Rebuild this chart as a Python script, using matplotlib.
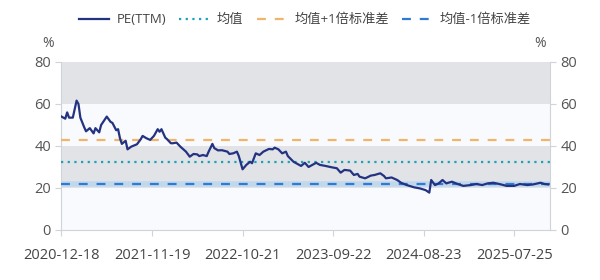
import matplotlib
matplotlib.use("Agg")
import matplotlib.pyplot as plt

plt.rcParams['font.family'] = ['Open Sans', 'Noto Sans CJK SC', 'DejaVu Sans']

# weeks since 2020-12-18 and PE(TTM) values
weeks = [0, 2, 3, 4, 6, 8, 9, 10, 12, 13, 15, 17, 18, 20, 21, 24, 26, 27, 29, 30,
         31, 32, 34, 35, 37, 40, 42, 43, 45, 47, 49, 51, 52, 53, 55, 56, 58, 59, 61, 63,
         66, 68, 70, 72, 73, 75, 77, 78, 80, 81, 83, 85, 88, 89, 91, 93, 94, 96, 98, 100,
         101, 103, 105, 107, 110, 112, 113, 115, 117, 119, 120, 123, 126, 127, 129, 131, 133, 135, 137, 140,
         143, 146, 148, 150, 153, 155, 157, 158, 161, 164, 166, 169, 171, 172, 175, 178, 180, 183, 187, 190,
         193, 195, 196, 198, 200, 202, 204, 207, 210, 213, 217, 220, 223, 226, 229, 233, 236, 240, 243, 247,
         250, 254, 256, 258]
pe = [54.0, 53.0, 56.0, 53.5, 53.5, 61.6, 60.0, 53.5, 49.0, 47.0, 48.5, 46.0, 48.5, 46.5, 50.0, 54.0, 51.5, 51.0, 47.5, 48.0,
      43.7, 41.0, 42.5, 38.4, 39.7, 40.8, 43.2, 44.8, 43.7, 42.9, 44.8, 48.0, 46.8, 48.0, 44.0, 43.2, 41.3, 41.3, 41.6, 39.7,
      37.3, 34.9, 36.2, 36.0, 35.2, 35.7, 35.2, 37.3, 41.0, 39.0, 37.9, 38.0, 37.3, 36.2, 36.5, 37.3, 35.2, 28.9, 31.0, 32.5,
      31.8, 36.5, 35.7, 37.3, 38.6, 38.4, 39.2, 38.4, 36.5, 37.3, 35.2, 32.5, 31.0, 30.5, 32.0, 30.0, 31.0, 32.0, 31.0, 30.5,
      29.9, 29.4, 27.3, 28.6, 28.3, 26.2, 26.7, 25.4, 24.6, 25.9, 26.2, 27.0, 25.7, 24.6, 25.0, 23.8, 22.5, 21.4, 20.3, 19.8,
      19.0, 17.8, 23.8, 21.4, 22.2, 23.8, 22.2, 23.0, 21.9, 21.0, 21.4, 21.9, 21.4, 22.2, 22.5, 21.7, 21.0, 21.0, 21.9, 21.4,
      21.7, 22.5, 21.9, 21.7]

mean_val = 32.5
upper_val = 42.9
lower_val = 22.0

tick_weeks = [0, 48, 96, 144, 192, 240]
tick_labels = ["2020-12-18", "2021-11-19", "2022-10-21", "2023-09-22", "2024-08-23", "2025-07-25"]
yticks = [0, 20, 40, 60, 80]

fig = plt.figure(figsize=(6, 2.8), dpi=100)
ax = fig.add_axes([0.1025, 0.1786, 0.8142, 0.6])
ax.set_facecolor('#f9fafd')

# grey bands
for lo, hi in [(60, 80), (20, 40)]:
    ax.axhspan(lo, hi, color='#e2e3e7', lw=0, zorder=0)

ax.plot(weeks, pe, color='#233382', lw=1.6, label='PE(TTM)', zorder=4)
ax.axhline(mean_val, color='#1ba2b5', lw=1.6, ls=(0, (1, 2)), label='均值', zorder=3)
ax.axhline(upper_val, color='#f0b56a', lw=1.6, ls=(0, (4, 4)), label='均值+1倍标准差', zorder=3)
ax.axhline(lower_val, color='#a9d2f4', lw=4, alpha=0.6, zorder=2)
ax.axhline(lower_val, color='#2f7ad3', lw=1.6, ls=(0, (4, 4)), label='均值-1倍标准差', zorder=3)

ax.set_xlim(0, 259)
ax.set_ylim(0, 80)
ax.set_xticks(tick_weeks)
ax.set_xticklabels(tick_labels)
ax.set_yticks(yticks)

ax.spines['top'].set_visible(False)
for s in ['left', 'right', 'bottom']:
    ax.spines[s].set_color('#cfd3da')
    ax.spines[s].set_linewidth(0.8)

ax.tick_params(axis='x', colors='#cfd3da', labelcolor='#444444', labelsize=10.5, length=4, pad=9)
ax.tick_params(axis='y', colors='#cfd3da', labelcolor='#555555', labelsize=10.5, length=4,
               left=True, right=True, labelleft=True, labelright=True)

fig.text(0.08, 0.843, '%', fontsize=10, color='#555555', ha='center', va='center')
fig.text(0.9, 0.843, '%', fontsize=10, color='#555555', ha='center', va='center')

leg = fig.legend(loc='center', bbox_to_anchor=(0.508, 0.929), ncol=4, frameon=False,
                 fontsize=9.5, handlelength=2.3, columnspacing=1.0, handletextpad=0.55)
for t in leg.get_texts():
    t.set_color('#444444')

fig.savefig('out.png', dpi=100)
